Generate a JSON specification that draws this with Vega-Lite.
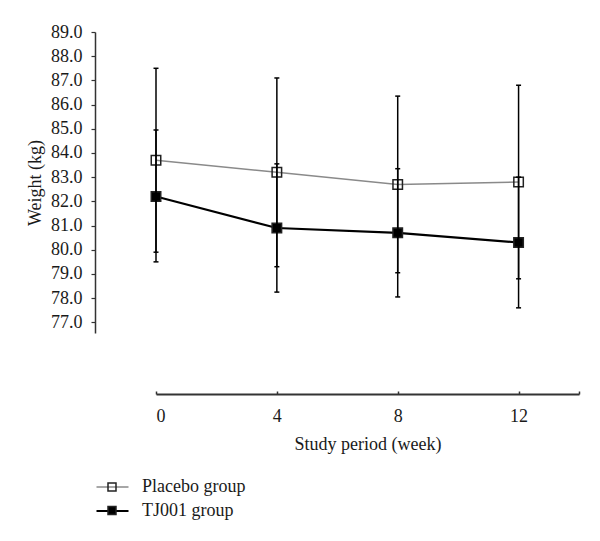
{
  "$schema": "https://vega.github.io/schema/vega-lite/v6.json",
  "width": 423,
  "height": 301,
  "autosize": {"type": "none"},
  "padding": {"left": 156, "top": 32, "right": 21, "bottom": 208},
  "background": "white",
  "config": {
    "view": {"stroke": null},
    "font": "Liberation Serif",
    "axis": {
      "grid": false,
      "labelFont": "Liberation Serif",
      "titleFont": "Liberation Serif",
      "labelFontSize": 18,
      "titleFontSize": 18,
      "titleFontWeight": "normal",
      "labelColor": "#1a1a1a",
      "titleColor": "#1a1a1a",
      "domainColor": "#333333",
      "tickColor": "#333333"
    },
    "legend": {
      "labelFont": "Liberation Serif",
      "labelFontSize": 18,
      "labelColor": "#1a1a1a"
    }
  },
  "data": {
    "values": [
      {"week": 0, "group": "Placebo group", "series": "Placebo group", "mean": 83.7, "lower": 79.9, "upper": 87.5},
      {"week": 4, "group": "Placebo group", "series": "Placebo group", "mean": 83.2, "lower": 79.3, "upper": 87.1},
      {"week": 8, "group": "Placebo group", "series": "Placebo group", "mean": 82.7, "lower": 79.05, "upper": 86.35},
      {"week": 12, "group": "Placebo group", "series": "Placebo group", "mean": 82.8, "lower": 78.8, "upper": 86.8},
      {"week": 0, "group": "TJ001 group", "series": "TJ001 group", "mean": 82.2, "lower": 79.5, "upper": 84.95},
      {"week": 4, "group": "TJ001 group", "series": "TJ001 group", "mean": 80.9, "lower": 78.25, "upper": 83.55},
      {"week": 8, "group": "TJ001 group", "series": "TJ001 group", "mean": 80.7, "lower": 78.05, "upper": 83.35},
      {"week": 12, "group": "TJ001 group", "series": "TJ001 group", "mean": 80.3, "lower": 77.6, "upper": 83.0}
    ]
  },
  "encoding": {
    "x": {
      "field": "week", "type": "quantitative",
      "scale": {"domain": [0, 14], "nice": false, "zero": false},
      "axis": {
        "title": "Study period (week)",
        "values": [0, 4, 8, 12, 14],
        "labelExpr": "datum.value == 14 ? '' : datum.label",
        "offset": 61,
        "tickSize": -3,
        "tickWidth": 1.5,
        "domainWidth": 2,
        "labelPadding": 16,
        "titlePadding": 10
      }
    },
    "y": {
      "field": "mean", "type": "quantitative",
      "scale": {"domain": [76.56, 89], "nice": false, "zero": false},
      "axis": {
        "title": "Weight (kg)",
        "values": [77, 78, 79, 80, 81, 82, 83, 84, 85, 86, 87, 88, 89],
        "format": ".1f",
        "offset": 61,
        "tickSize": 4,
        "tickWidth": 1.2,
        "domainWidth": 1.5,
        "labelPadding": 9,
        "titlePadding": 6
      }
    }
  },
  "layer": [
    {
      "mark": {"type": "line"},
      "encoding": {
        "stroke": {
          "field": "group", "type": "nominal",
          "scale": {"range": ["#8a8a8a", "#000000"]},
          "legend": {
            "title": null,
            "orient": "none",
            "legendX": -53,
            "legendY": 446,
            "padding": 0,
            "symbolType": "M-2,0H2",
            "symbolSize": 256,
            "symbolStrokeWidth": 1.8,
            "labelOffset": 20,
            "rowPadding": 5.5
          }
        },
        "strokeWidth": {
          "field": "group", "type": "nominal",
          "scale": {"range": [1.5, 2.2]},
          "legend": null
        }
      }
    },
    {
      "mark": {"type": "square", "size": 90, "stroke": "#222222", "strokeWidth": 1.5, "opacity": 1},
      "encoding": {
        "fill": {
          "field": "series", "type": "nominal",
          "scale": {"range": ["transparent", "#000000"]},
          "legend": {
            "title": null,
            "orient": "none",
            "legendX": -53,
            "legendY": 446,
            "padding": 0,
            "symbolType": "M-0.5,-0.5H0.5V0.5H-0.5Z",
            "symbolSize": 256,
            "symbolStrokeColor": "#222222",
            "symbolStrokeWidth": 1.5,
            "symbolOpacity": 1,
            "labelOpacity": 0,
            "labelOffset": 20,
            "rowPadding": 5.5
          }
        }
      }
    },
    {
      "mark": {"type": "rule", "color": "#000000", "strokeWidth": 1.5},
      "encoding": {
        "y": {"field": "lower", "type": "quantitative"},
        "y2": {"field": "upper"}
      }
    },
    {
      "mark": {"type": "tick", "orient": "horizontal", "size": 5, "thickness": 1.5, "color": "#000000", "opacity": 1},
      "encoding": {"y": {"field": "lower", "type": "quantitative"}}
    },
    {
      "mark": {"type": "tick", "orient": "horizontal", "size": 5, "thickness": 1.5, "color": "#000000", "opacity": 1},
      "encoding": {"y": {"field": "upper", "type": "quantitative"}}
    }
  ]
}
